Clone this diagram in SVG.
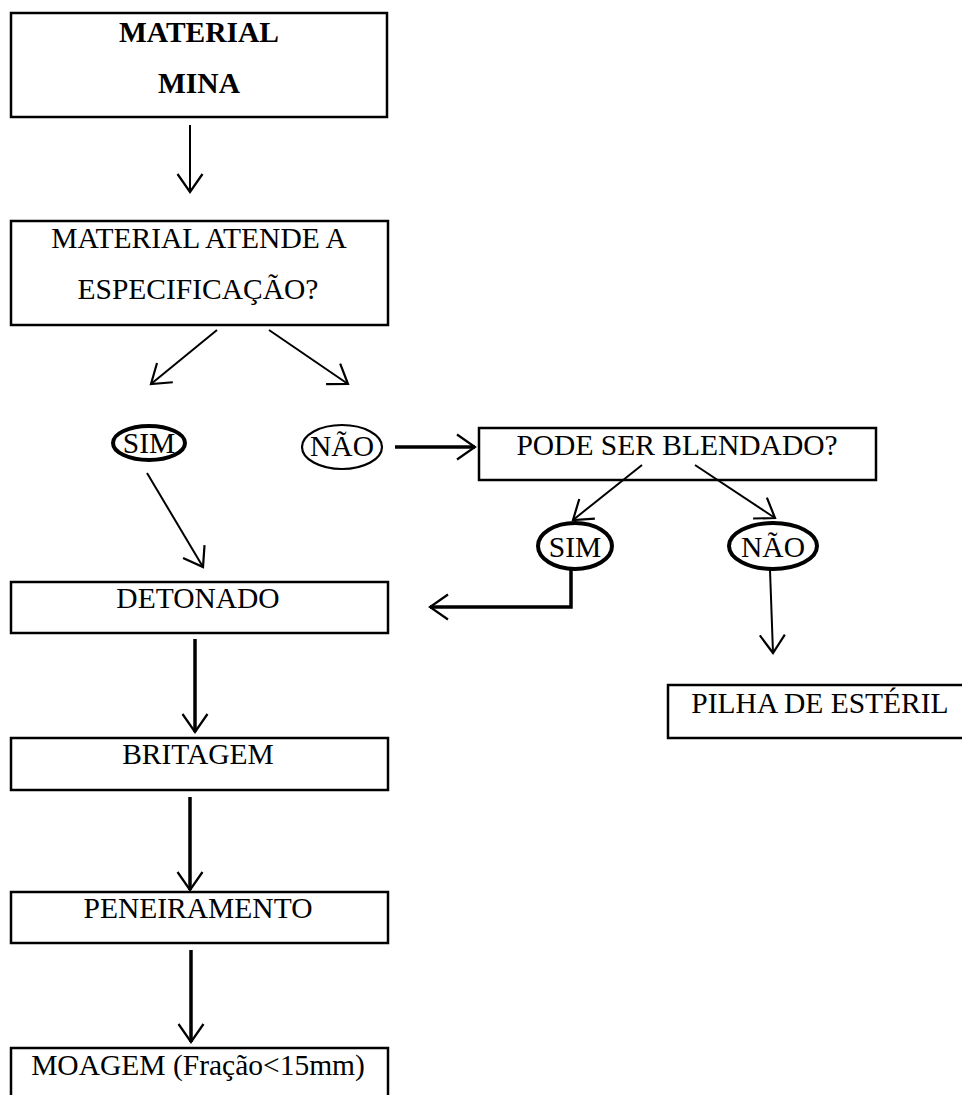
<svg xmlns="http://www.w3.org/2000/svg" width="962" height="1095" viewBox="0 0 962 1095">
<defs>
<style>
.box{fill:#fff;stroke:#000;stroke-width:2.5}
.t{font-family:"Liberation Serif","Times New Roman",serif;font-size:29.5px;fill:#000;text-anchor:middle}
.b{font-weight:bold}
.ell{fill:#fff;stroke:#000;stroke-width:4}
.ell2{fill:#fff;stroke:#000;stroke-width:2.2}
.c{fill:none;stroke:#000;stroke-width:2}
.c3{fill:none;stroke:#000;stroke-width:3.5}
</style>
<marker id="ah" markerUnits="userSpaceOnUse" viewBox="-20 -15 22 30" refX="0" refY="0" markerWidth="22" markerHeight="30" orient="auto" overflow="visible">
<path d="M-18,-12.5 L0,0 L-18,12.5" fill="none" stroke="#000" stroke-width="2.2"/>
</marker>
</defs>
<rect width="962" height="1095" fill="#fff"/>
<g id="n-material-mina">
<rect class="box" x="11" y="13" width="376" height="104"/>
<text class="t b" x="199" y="42">MATERIAL</text>
<text class="t b" x="199" y="93">MINA</text>
</g>
<g id="n-atende">
<rect class="box" x="11" y="221" width="377" height="104"/>
<text class="t" x="199" y="248">MATERIAL ATENDE A</text>
<text class="t" x="198" y="299">ESPECIFICAÇÃO?</text>
</g>
<g id="n-sim1">
<ellipse class="ell" cx="149" cy="443" rx="36" ry="17"/>
<text class="t" x="149" y="453">SIM</text>
</g>
<g id="n-nao1">
<ellipse class="ell2" cx="342" cy="447" rx="40" ry="22"/>
<text class="t" x="342" y="456">NÃO</text>
</g>
<g id="n-blendado">
<rect class="box" x="479" y="428" width="397" height="52"/>
<text class="t" x="677" y="455">PODE SER BLENDADO?</text>
</g>
<g id="n-sim2">
<ellipse class="ell" cx="575" cy="546" rx="37" ry="23"/>
<text class="t" x="575" y="557">SIM</text>
</g>
<g id="n-nao2">
<ellipse class="ell" cx="773" cy="546" rx="44" ry="23"/>
<text class="t" x="773" y="557">NÃO</text>
</g>
<g id="n-detonado">
<rect class="box" x="11" y="582" width="377" height="51"/>
<text class="t" x="198" y="608">DETONADO</text>
</g>
<g id="n-pilha">
<rect class="box" x="668" y="685" width="310" height="53"/>
<text class="t" x="820" y="713">PILHA DE ESTÉRIL</text>
</g>
<g id="n-britagem">
<rect class="box" x="11" y="738" width="377" height="52"/>
<text class="t" x="198" y="764">BRITAGEM</text>
</g>
<g id="n-peneiramento">
<rect class="box" x="11" y="892" width="377" height="51"/>
<text class="t" x="198" y="918">PENEIRAMENTO</text>
</g>
<g id="n-moagem">
<rect class="box" x="11" y="1048" width="377" height="60"/>
<text class="t" x="198" y="1075">MOAGEM (Fração&lt;15mm)</text>
</g>
<g id="connectors">
<line class="c" x1="190" y1="125" x2="190" y2="192" marker-end="url(#ah)"/>
<line class="c" x1="217" y1="330" x2="151" y2="384" marker-end="url(#ah)"/>
<line class="c" x1="269" y1="330" x2="348" y2="384" marker-end="url(#ah)"/>
<line class="c" x1="147" y1="473" x2="203" y2="567" marker-end="url(#ah)"/>
<line class="c3" x1="395" y1="447" x2="475" y2="447" marker-end="url(#ah)"/>
<line class="c" x1="642" y1="465" x2="573" y2="520" marker-end="url(#ah)"/>
<line class="c" x1="695" y1="465" x2="775" y2="518" marker-end="url(#ah)"/>
<polyline class="c3" points="571,570 571,607 430,607" marker-end="url(#ah)"/>
<line class="c" x1="770" y1="570" x2="773" y2="653" marker-end="url(#ah)"/>
<line class="c3" x1="195" y1="639" x2="195" y2="732" marker-end="url(#ah)"/>
<line class="c3" x1="190" y1="797" x2="190" y2="890" marker-end="url(#ah)"/>
<line class="c3" x1="191" y1="950" x2="191" y2="1042" marker-end="url(#ah)"/>
</g>
</svg>
